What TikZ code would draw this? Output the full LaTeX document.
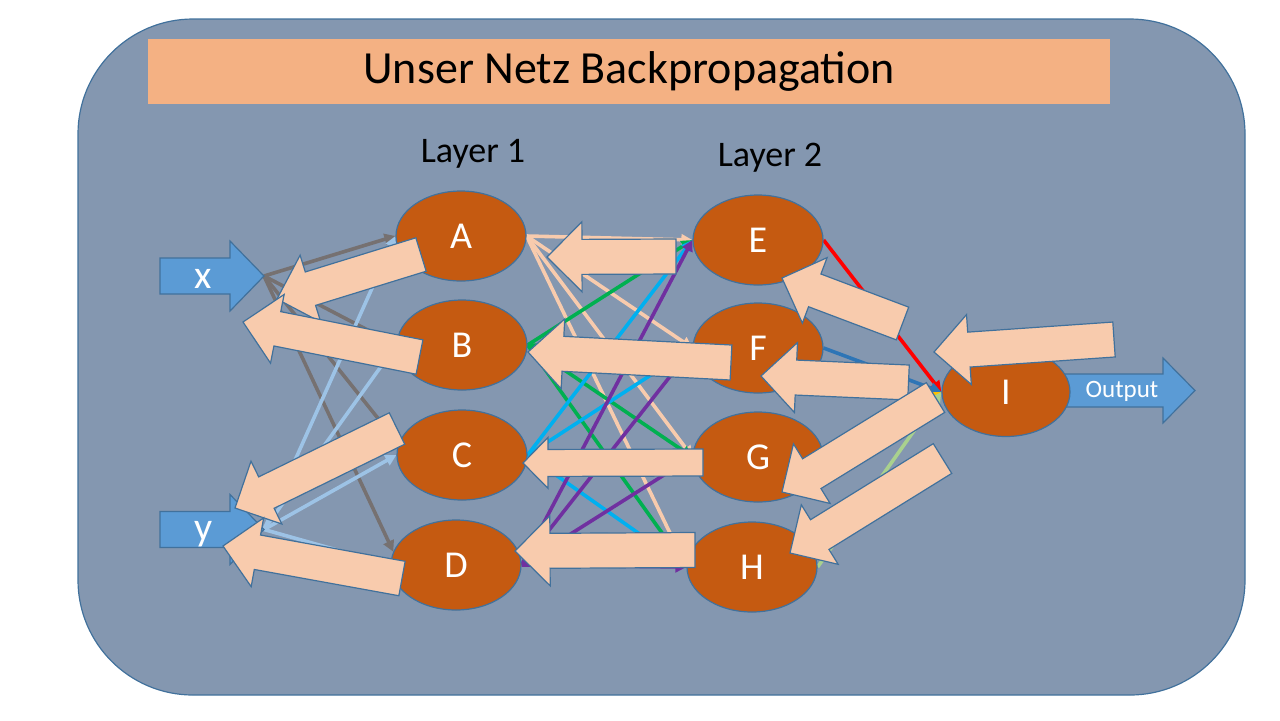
\documentclass[tikz,border=0pt]{standalone}
\usepackage{fontspec}
\setmainfont{Carlito}
\usetikzlibrary{shapes.geometric, arrows.meta, calc}

\definecolor{panelgray}{HTML}{8497B0}
\definecolor{edgeblue}{HTML}{41719C}
\definecolor{titleorange}{HTML}{F4B183}
\definecolor{neuronbrown}{HTML}{C55A11}
\definecolor{inblue}{HTML}{5B9BD5}
\definecolor{peach}{HTML}{F8CBAD}
\definecolor{wiregray}{HTML}{767171}
\definecolor{wirelightblue}{HTML}{9DC3E6}
\definecolor{wiregreen}{HTML}{00B050}
\definecolor{wirecyan}{HTML}{00B0F0}
\definecolor{wirepurple}{HTML}{7030A0}
\definecolor{wirered}{HTML}{FF0000}
\definecolor{wireblue}{HTML}{2E75B6}
\definecolor{wireorange}{HTML}{FFC000}
\definecolor{wirelightgreen}{HTML}{A9D18E}

\pgfdeclarelayer{panel}
\pgfdeclarelayer{wires}
\pgfsetlayers{panel,wires,main}

\tikzset{
  neuron/.style={ellipse, draw=edgeblue, line width=0.6pt, fill=neuronbrown, minimum width=65pt, minimum height=45pt, inner sep=0pt, text=white, font=\fontsize{19}{22}\selectfont},
  wire/.style={line width=1.8pt, -{Triangle[length=5.5pt,width=5.5pt]}},
  bkarrow/.style={draw=edgeblue, line width=0.6pt, fill=peach, line join=miter},
  inarrow/.style={bkarrow, fill=inblue},
  layerlabel/.style={font=\fontsize{18}{22}\selectfont},
}

% block arrow: [style]{tail}{tip}{shaft half width}{head half width}{head length}
\newcommand\blockarrow[6][bkarrow]{%
  \coordinate (ba-s) at (#2);
  \coordinate (ba-t) at (#3);
  \coordinate (ba-b) at ($(ba-t)!#6!(ba-s)$);
  \draw[#1] (ba-t) -- ($(ba-b)!#5!90:(ba-s)$) -- ($(ba-b)!#4!90:(ba-s)$)
    -- ($(ba-s)!#4!-90:(ba-b)$) -- ($(ba-s)!#4!90:(ba-b)$)
    -- ($(ba-b)!#4!-90:(ba-s)$) -- ($(ba-b)!#5!-90:(ba-s)$) -- cycle;
}

\begin{document}
\begin{tikzpicture}[x=0.5pt, y=-0.5pt]
\useasboundingbox (0,0) rectangle (1280,720);

% Panel and title
\begin{pgfonlayer}{panel}
  \draw[draw=edgeblue, line width=0.6pt, fill=panelgray, rounded corners=57.5pt] (78,19) rectangle (1245,695);
\end{pgfonlayer}
\node[fill=titleorange, minimum width=481pt, minimum height=32.5pt, inner sep=0pt, font=\fontsize{23}{28}\selectfont] (title) at (629,71.5) {Unser Netz Backpropagation};
\node[layerlabel] (layer1) at (473,154) {Layer 1};
\node[layerlabel] (layer2) at (770,158) {Layer 2};

% Inputs and output
\blockarrow[inarrow]{160,276}{264,276}{9pt}{17.5pt}{17pt}
\node[text=white, font=\fontsize{20}{22}\selectfont] (xlabel) at (203,279) {x};
\coordinate (xtip) at (264,276);
\blockarrow[inarrow]{160,529.5}{264,529.5}{9pt}{17.5pt}{17pt}
\node[text=white, font=\fontsize{20}{22}\selectfont] (ylabel) at (204,534) {y};
\coordinate (ytip) at (264,529.5);
\blockarrow[inarrow]{1060,390.5}{1195,390.5}{8.25pt}{16.25pt}{16pt}
\node[text=white, font=\fontsize{12.5}{14}\selectfont] (outlabel) at (1122,391) {Output};

% Neurons
\node[neuron] (A) at (461,236) {A};
\node[neuron] (B) at (462,345) {B};
\node[neuron] (C) at (462,455) {C};
\node[neuron] (D) at (456,565) {D};
\node[neuron] (E) at (758,240) {E};
\node[neuron] (F) at (758,348) {F};
\node[neuron] (G) at (758,457) {G};
\node[neuron] (H) at (752,567) {H};
\node[neuron, minimum width=64pt, minimum height=44.5pt] (I) at (1006,392) {I};

% Forward connections
\begin{pgfonlayer}{wires}
  \foreach \n/\a in {A/180,B/180,C/170,D/168} \draw[wire, wiregray] (xtip) -- (\n.\a);
  \foreach \n in {A,B,C,D} \draw[wire, wirelightblue] (ytip) -- (\n.west);
  \foreach \s/\c in {A/peach, B/wiregreen, C/wirecyan, D/wirepurple}
    \foreach \t in {E,F,G,H}
      \draw[wire, \c] (\s.east) -- (\t.west);
  \foreach \s/\c in {E/wirered, F/wireblue, G/wireorange, H/wirelightgreen}
    \draw[wire, \c] (\s.east) -- (I.west);
\end{pgfonlayer}

% Backward arrows
\blockarrow{421,254.5}{277,299}{8.75pt}{17.5pt}{17.5pt}
\blockarrow{419.5,357}{243,322}{8.75pt}{17.5pt}{17.5pt}
\blockarrow{397,428.5}{235,508}{8.75pt}{17.5pt}{17.5pt}
\blockarrow{402,578.5}{223,546}{8.75pt}{17.5pt}{17.5pt}
\blockarrow{676,256.5}{547,257}{8.75pt}{17.5pt}{17.5pt}
\blockarrow{731,362.5}{528,352}{8.75pt}{17.5pt}{17.5pt}
\blockarrow{703,462.5}{523,463}{6.75pt}{12.75pt}{12.5pt}
\blockarrow{695,550}{515,551}{8.75pt}{17.5pt}{17.5pt}
\blockarrow{902.5,323.5}{782,278}{8.75pt}{17.5pt}{17.5pt}
\blockarrow{908.5,382.5}{761,376}{8.75pt}{17.5pt}{17.5pt}
\blockarrow{1114,339.5}{934,352}{8.75pt}{17.5pt}{17.5pt}
\blockarrow{935.5,397.5}{782,492}{8.75pt}{17.5pt}{17.5pt}
\blockarrow{942.5,458.5}{790,553}{8.75pt}{17.5pt}{17.5pt}

\end{tikzpicture}
\end{document}
